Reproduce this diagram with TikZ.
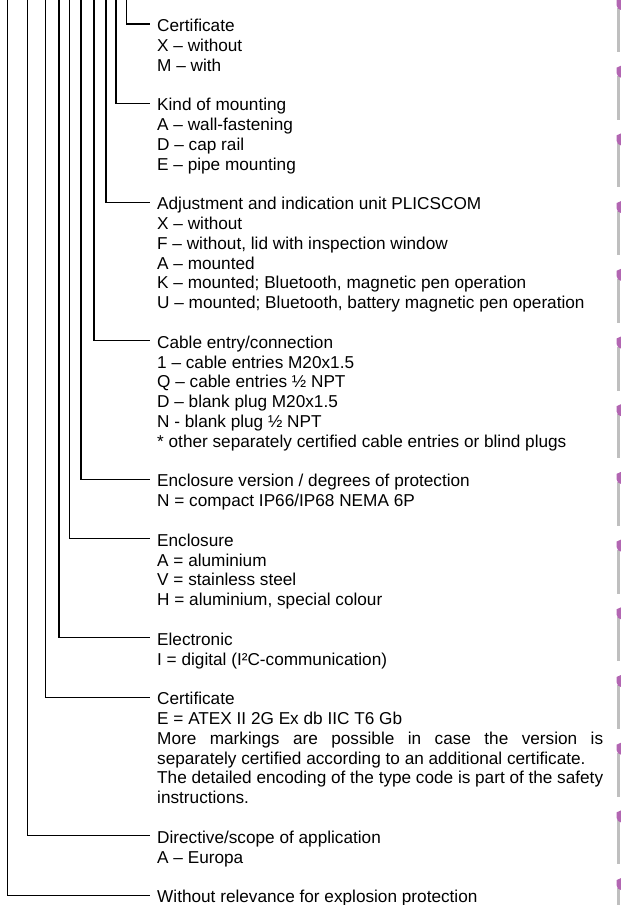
\documentclass[tikz,border=0pt]{standalone}
\usepackage{fontspec}
\setmainfont{Liberation Sans}
\begin{document}
\begin{tikzpicture}[x=1pt,y=-1pt,
  txt/.style={anchor=base west,inner sep=0pt,font=\fontsize{17.2}{20}\selectfont},
  lead/.style={line width=1.2pt,black},
  wmark/.style={fill=violet!60!white},
  wstrip/.style={fill=black!25}]
\useasboundingbox (0,0) rectangle (621,905);
% text lines: baseline = 31.5 + 19.8*i
\newcommand{\tline}[3]{\node[txt] (#1) at (157,{31.5+19.8*#2}) {#3};}
\tline{h1}{0}{Certificate}
\tline{h1a}{1}{X – without}
\tline{h1b}{2}{M – with}
\tline{h2}{4}{Kind of mounting}
\tline{h2a}{5}{A – wall-fastening}
\tline{h2b}{6}{D – cap rail}
\tline{h2c}{7}{E – pipe mounting}
\tline{h3}{9}{Adjustment and indication unit PLICSCOM}
\tline{h3a}{10}{X – without}
\tline{h3b}{11}{F – without, lid with inspection window}
\tline{h3c}{12}{A – mounted}
\tline{h3d}{13}{K – mounted; Bluetooth, magnetic pen operation}
\tline{h3e}{14}{U – mounted; Bluetooth, battery magnetic pen operation}
\tline{h4}{16}{Cable entry/connection}
\tline{h4a}{17}{1 – cable entries M20x1.5}
\tline{h4b}{18}{Q – cable entries ½ NPT}
\tline{h4c}{19}{D – blank plug M20x1.5}
\tline{h4d}{20}{N - blank plug ½ NPT}
\tline{h4e}{21}{* other separately certified cable entries or blind plugs}
\tline{h5}{23}{Enclosure version / degrees of protection}
\tline{h5a}{24}{N = compact IP66/IP68 NEMA 6P}
\tline{h6}{26}{Enclosure}
\tline{h6a}{27}{A = aluminium}
\tline{h6b}{28}{V = stainless steel}
\tline{h6c}{29}{H = aluminium, special colour}
\tline{h7}{31}{Electronic}
\tline{h7a}{32}{I = digital (I²C-communication)}
\tline{h8}{34}{Certificate}
\tline{h8a}{35}{E = ATEX II 2G Ex db IIC T6 Gb}
\tline{h8b}{36}{\makebox[446pt][s]{More markings are possible in case the version is}}
\tline{h8c}{37}{separately certified according to an additional certificate.}
\tline{h8d}{38}{\makebox[446pt][s]{The detailed encoding of the type code is part of the safety}}
\tline{h8e}{39}{instructions.}
\tline{h9}{41}{Directive/scope of application}
\tline{h9a}{42}{A – Europa}
\tline{h10}{44}{Without relevance for explosion protection}
% leader lines
\foreach \n/\x in {h1/126.7,h2/116,h3/106,h4/94,h5/81,h6/69.3,h7/59,h8/45.7,h9/27.3,h10/7.3}{
  \coordinate (t\n) at (\x,0);
  \draw[lead] (t\n) |- ([xshift=-7pt,yshift=7.5pt]\n.base west);
}
% right-edge marks
\foreach \k in {0,...,13}{
  \pgfmathsetmacro{\y}{\k*67.7}
  \fill[wstrip] (617,\y+8) rectangle (619.5,\y+52);
  \fill[wmark] (616.5,\y) -- (621,\y-2) -- (621,\y+10) .. controls (618,\y+9) .. (616.5,\y+5) -- cycle;
}
\end{tikzpicture}
\end{document}
